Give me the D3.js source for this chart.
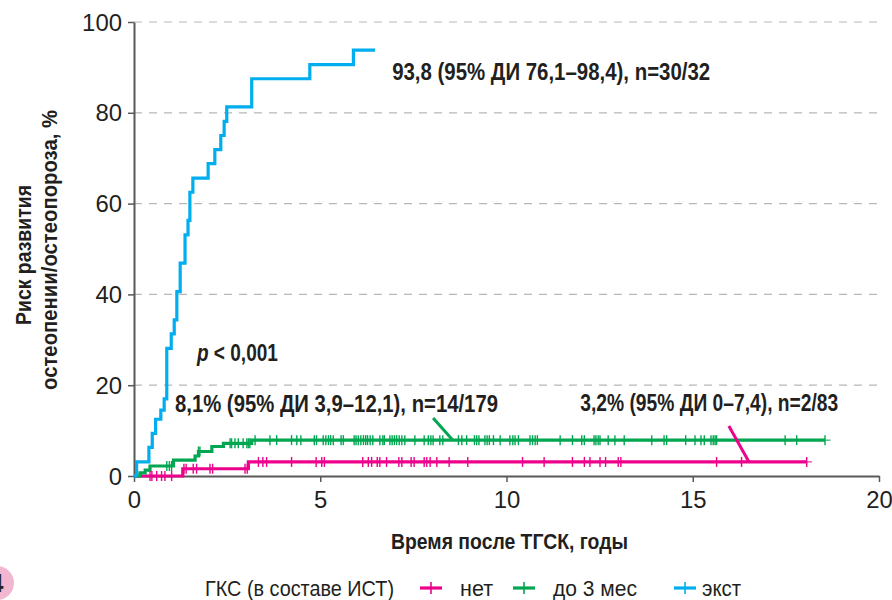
<!DOCTYPE html>
<html>
<head>
<meta charset="utf-8">
<script src="https://cdn.jsdelivr.net/npm/d3@7"></script>
<style>
  body { margin: 0; background: #fff; }
  svg text { font-family: "Liberation Sans", Arial, sans-serif; fill: #231f20; }
</style>
</head>
<body>
<div id="chart"></div>
<script>
// step curves: [time, cumulative incidence %]
const blueSteps = [[0,0],[0.07,3.1],[0.40,6.3],[0.49,9.4],[0.58,12.5],[0.72,14.5],[0.81,17],[0.88,28.1],[1.00,31.3],[1.08,34.4],[1.15,40.6],[1.24,46.9],[1.37,53.1],[1.45,56.3],[1.50,62.5],[1.58,65.6],[1.99,68.8],[2.17,71.9],[2.33,75.0],[2.42,78.1],[2.49,81.3],[3.16,87.5],[4.72,90.6],[5.89,93.8],[6.47,93.8]];
const greenSteps = [[0,0],[0.16,0.7],[0.30,1.3],[0.43,2.2],[1.06,3.5],[1.64,4.4],[1.73,5.4],[2.09,6.5],[2.40,7.2],[3.16,7.9],[18.55,7.9]];
const pinkSteps = [[0,0],[1.31,1.6],[3.07,3.1],[18.06,3.1]];

// censored observations (time)
const greenCensor = [0.88,0.95,1.01,1.73,1.77,2.58,2.62,2.71,2.80,2.93,3.03,3.07,3.11,3.25,3.65,3.83,4.23,4.37,4.48,4.84,4.90,5.08,5.15,5.22,5.28,5.35,5.56,5.62,5.91,5.96,6.02,6.09,6.16,6.22,6.27,6.34,6.41,6.60,6.68,6.72,6.87,6.93,6.99,7.05,7.12,7.19,7.27,7.54,7.79,7.90,7.97,8.03,8.21,8.29,8.71,8.80,8.93,9.14,9.20,9.26,9.42,9.48,9.54,9.65,9.83,10.09,10.17,10.23,10.32,10.63,10.70,10.77,10.83,11.44,11.77,12.02,12.09,12.35,12.40,12.46,12.51,12.73,12.91,13.16,13.90,14.23,14.30,14.81,15.06,15.22,15.31,15.49,15.55,15.60,15.64,17.48,17.79,18.55];
const pinkCensor = [0.43,0.48,0.61,0.74,0.83,1.01,1.34,1.40,1.59,1.68,2.04,2.11,2.98,3.04,3.34,3.46,3.56,4.23,4.89,5.04,5.11,6.14,6.29,6.38,6.53,6.60,6.78,7.11,7.19,7.44,7.52,7.79,7.86,7.95,8.13,8.46,8.96,10.43,11.01,11.77,12.09,12.24,12.51,12.66,13.00,13.07,15.64,16.31,18.06];

const xTicks = [0, 5, 10, 15, 20];
const yTicks = [0, 20, 40, 60, 80, 100];

const groups = ["нет", "до 3 мес", "экст"];
const colors = ["#ec008c", "#00a650", "#00aeef"];

const annotations = [
  {text: "93,8 (95% ДИ 76,1–98,4), n=30/32", t: 6.93, v: 87.2},
  {text: "8,1% (95% ДИ 3,9–12,1), n=14/179", t: 1.10, v: 14.2},
  {text: "3,2% (95% ДИ 0–7,4), n=2/83", t: 11.98, v: 14.4}
];
// leader lines
const leaders = [
  {from: [8.03, 12.8], to: [8.56, 7.9], color: colors[1]},
  {from: [15.97, 11.0], to: [16.51, 3.1], color: colors[0]}
];

const width = 892, height = 600;
const margin = {top: 22, right: 13, bottom: 124, left: 134};

// condensed look: squeeze text to the widths seen in the figure
function fit(sel, w) {
  sel.attr("textLength", w).attr("lengthAdjust", "spacingAndGlyphs");
}

const svg = d3.select("#chart")
  .append("svg")
    .attr("width", width)
    .attr("height", height);

const x = d3.scaleLinear()
  .domain([0, 20])
  .range([margin.left, width - margin.right]);
const y = d3.scaleLinear()
  .domain([0, 100])
  .range([height - margin.bottom, margin.top]);

// dashed gridlines
svg.append("g")
  .selectAll("line")
  .data(yTicks.filter(d => d > 0))
  .enter()
  .append("line")
    .attr("x1", x(0))
    .attr("x2", x(20))
    .attr("y1", d => y(d))
    .attr("y2", d => y(d))
    .attr("stroke", "#b8b8b8")
    .attr("stroke-width", 1.2)
    .attr("stroke-dasharray", "8,7");

// axes
const xAxis = svg.append("g")
  .attr("transform", "translate(0," + y(0) + ")")
  .call(d3.axisBottom(x).tickValues(xTicks).tickSize(6).tickSizeOuter(0).tickPadding(6));
const yAxis = svg.append("g")
  .attr("transform", "translate(" + x(0) + ",0)")
  .call(d3.axisLeft(y).tickValues(yTicks).tickSize(6).tickSizeOuter(0).tickPadding(6));

[xAxis, yAxis].forEach(function (a) {
  a.select(".domain").attr("stroke", "#58595b").attr("stroke-width", 2);
  a.selectAll(".tick line").attr("stroke", "#58595b").attr("stroke-width", 1.5);
  a.selectAll(".tick text")
    .attr("font-size", 23)
    .style("font-family", "inherit")
    .attr("fill", "#231f20")
    .each(function (d) { fit(d3.select(this), 13.3 * String(d).length); });
});
xAxis.selectAll(".tick text").attr("dy", "0.85em");
yAxis.selectAll(".tick text").attr("dy", "0.35em");

// curves
const line = d3.line()
  .x(d => x(d[0]))
  .y(d => y(d[1]))
  .curve(d3.curveStepAfter);

const curves = [pinkSteps, greenSteps, blueSteps];

function levelAt(steps, t) {
  let v = 0;
  steps.forEach(function (s) { if (s[0] <= t) v = s[1]; });
  return v;
}
function drawCensor(times, steps, color) {
  svg.append("g")
    .selectAll("line")
    .data(times)
    .enter()
    .append("line")
      .attr("x1", d => x(d))
      .attr("x2", d => x(d))
      .attr("y1", d => y(levelAt(steps, d)) - 5)
      .attr("y2", d => y(levelAt(steps, d)) + 5)
      .attr("stroke", color)
      .attr("stroke-width", 1.4);
}

// short tails after last observation
svg.append("line")
  .attr("x1", x(18.55)).attr("x2", x(18.7))
  .attr("y1", y(7.9)).attr("y2", y(7.9))
  .attr("stroke", colors[1]).attr("stroke-width", 1);
svg.append("line")
  .attr("x1", x(18.06)).attr("x2", x(18.2))
  .attr("y1", y(3.1)).attr("y2", y(3.1))
  .attr("stroke", colors[0]).attr("stroke-width", 1);

curves.forEach(function (c, i) {
  svg.append("path")
    .datum(c)
    .attr("fill", "none")
    .attr("stroke", colors[i])
    .attr("stroke-width", 3.2)
    .attr("d", line);
});
drawCensor(pinkCensor, pinkSteps, colors[0]);
drawCensor(greenCensor, greenSteps, colors[1]);

// leader lines
svg.append("g")
  .selectAll("line")
  .data(leaders)
  .enter()
  .append("line")
    .attr("x1", d => x(d.from[0]))
    .attr("y1", d => y(d.from[1]))
    .attr("x2", d => x(d.to[0]))
    .attr("y2", d => y(d.to[1]))
    .attr("stroke", d => d.color)
    .attr("stroke-width", 3);

// annotations
const annWidths = [318, 323, 258];
svg.append("g")
  .selectAll("text")
  .data(annotations)
  .enter()
  .append("text")
    .attr("x", d => x(d.t))
    .attr("y", d => y(d.v))
    .attr("font-size", 24)
    .attr("font-weight", "bold")
    .text(d => d.text)
    .each(function (d, i) { fit(d3.select(this), annWidths[i]); });

const pText = svg.append("text")
  .attr("x", x(1.69))
  .attr("y", y(25.3))
  .attr("font-size", 24)
  .attr("font-weight", "bold");
pText.append("tspan").attr("font-style", "italic").text("p");
pText.append("tspan").text(" < 0,001");
fit(pText, 81);

// axis titles
svg.append("text")
  .attr("x", 391)
  .attr("y", 549)
  .attr("font-size", 22)
  .attr("font-weight", "bold")
  .text("Время после ТГСК, годы")
  .call(fit, 237);

svg.append("text")
  .attr("transform", "translate(31,325) rotate(-90)")
  .attr("font-size", 22)
  .attr("font-weight", "bold")
  .text("Риск развития")
  .call(fit, 140);
svg.append("text")
  .attr("transform", "translate(57,390) rotate(-90)")
  .attr("font-size", 22)
  .attr("font-weight", "bold")
  .text("остеопении/остеопороза, %")
  .call(fit, 280);

// legend
const legend = svg.append("g").attr("transform", "translate(0,588)");
legend.append("text")
  .attr("x", 205)
  .attr("y", 8)
  .attr("font-size", 22)
  .text("ГКС (в составе ИСТ)")
  .call(fit, 189);
const legendX = [431, 524, 685];
const legendTextX = [460, 553, 702];
const legendTextW = [33, 84, 39];
groups.forEach(function (g, i) {
  const cx = legendX[i];
  legend.append("line")
    .attr("x1", cx - 11).attr("x2", cx + 11)
    .attr("y1", 0).attr("y2", 0)
    .attr("stroke", colors[i]).attr("stroke-width", 3.2);
  legend.append("line")
    .attr("x1", cx).attr("x2", cx)
    .attr("y1", -6).attr("y2", 6)
    .attr("stroke", colors[i]).attr("stroke-width", 1.6);
  legend.append("text")
    .attr("x", legendTextX[i])
    .attr("y", 8)
    .attr("font-size", 22)
    .text(g)
    .call(fit, legendTextW[i]);
});

// panel badge (cut at page edge)
svg.append("circle")
  .attr("cx", -3)
  .attr("cy", 583)
  .attr("r", 17)
  .attr("fill", "#f2b6d1");
svg.append("text")
  .attr("x", -11)
  .attr("y", 592)
  .attr("font-size", 26)
  .attr("font-weight", "bold")
  .text("4");
</script>
</body>
</html>
